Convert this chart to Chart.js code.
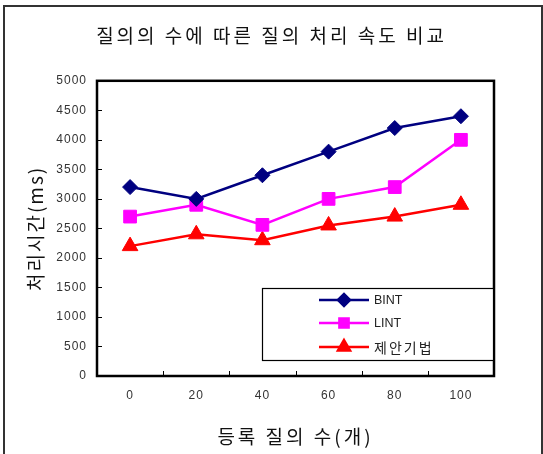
<!DOCTYPE html>
<html>
<head>
<meta charset="utf-8">
<script src="https://cdn.jsdelivr.net/npm/chart.js@4/dist/chart.umd.min.js"></script>
<style>
  html, body { margin: 0; padding: 0; background: #fff; }
  #wrap { position: relative; width: 543px; height: 454px; overflow: hidden; }
  #c { position: absolute; left: 0; top: 0; }
  .bl { position: absolute; left: 3px; top: 5px; width: 2px; height: 460px; background: #333; }
  .bt { position: absolute; left: 3px; top: 5px; width: 560px; height: 2px; background: #333; }
  .br { position: absolute; left: 541px; top: 5px; width: 2px; height: 460px; background: #333; }
</style>
</head>
<body>
<div id="wrap">
  <canvas id="c" width="543" height="454"></canvas>
  <div class="bl"></div><div class="bt"></div><div class="br"></div>
</div>
<script>
// ---- data ----
const categories = ['0', '20', '40', '60', '80', '100'];
const bintValues = [3200, 3000, 3400, 3800, 4200, 4400];
const lintValues = [2700, 2900, 2560, 3000, 3200, 4000];
const proposedValues = [2200, 2400, 2300, 2550, 2700, 2900];
const seriesNames = ['BINT', 'LINT', '제안기법'];
const yMin = 0, yMax = 5000, yStep = 500;
const chartTitle = '질의의 수에 따른 질의 처리 속도 비교';
const xTitle = '등록 질의 수(개)';
const yTitle = '처리시간(ms)';

const LATIN = "'Liberation Sans', 'Noto Sans CJK KR', sans-serif";
const KOR = "'Noto Sans CJK KR', 'Liberation Sans', sans-serif";

function withSpacing(ctx, sp, fn) {
  ctx.save();
  ctx.letterSpacing = sp;
  fn();
  ctx.restore();
}

const spacingPlugin = {
  id: 'spacing',
  afterLayout(chart) {
    const tb = chart.titleBlock;
    if (tb && !tb._sp) {
      const orig = tb.draw.bind(tb);
      tb.draw = () => withSpacing(chart.ctx, '3px', orig);
      tb._sp = true;
    }
    [['x', '3px'], ['y', '2px']].forEach(([id, sp]) => {
      const s = chart.scales[id];
      if (s && !s._sp) {
        const origT = s.drawTitle.bind(s);
        s.drawTitle = () => withSpacing(chart.ctx, sp, origT);
        const origL = s.drawLabels.bind(s);
        s.drawLabels = (area) => withSpacing(chart.ctx, '1px', () => origL(area));
        s._sp = true;
      }
    });
  }
};

const framePlugin = {
  id: 'frame',
  afterDraw(chart) {
    const ctx = chart.ctx;
    const a = chart.chartArea;
    const xs = chart.scales.x, ys = chart.scales.y;
    ctx.save();
    // tick marks (inside)
    ctx.strokeStyle = '#000';
    ctx.lineWidth = 1;
    ctx.beginPath();
    for (let v = yMin; v <= yMax; v += yStep) {
      const y = Math.round(ys.getPixelForValue(v)) + 0.5;
      ctx.moveTo(a.left, y); ctx.lineTo(a.left + 5, y);
    }
    for (let i = 0; i < categories.length - 1; i++) {
      const x = Math.round((xs.getPixelForValue(i) + xs.getPixelForValue(i + 1)) / 2) + 0.5;
      ctx.moveTo(x, a.bottom); ctx.lineTo(x, a.bottom - 5);
    }
    ctx.stroke();
    // plot frame
    ctx.lineWidth = 2.5;
    ctx.strokeRect(a.left, a.top, a.right - a.left, a.bottom - a.top);

    // legend
    const bx = 262, by = 288, bw = 231, bh = 72;
    ctx.fillStyle = '#fff';
    ctx.fillRect(bx, by, bw, bh);
    ctx.lineWidth = 1.2;
    ctx.strokeStyle = '#000';
    ctx.strokeRect(bx + 0.5, by + 0.5, bw, bh);
    const rows = [300, 323, 347];
    const legendRadius = [6, 6.5, 7];
    chart.data.datasets.forEach((ds, i) => {
      const y = rows[i];
      ctx.strokeStyle = ds.borderColor;
      ctx.fillStyle = ds.backgroundColor;
      ctx.lineWidth = 2.5;
      ctx.beginPath();
      ctx.moveTo(319, y); ctx.lineTo(369, y);
      ctx.stroke();
      Chart.helpers.drawPoint(ctx, {
        pointStyle: ds.pointStyle, radius: legendRadius[i], rotation: 0, borderWidth: 1
      }, 344, y);
      ctx.fillStyle = '#222';
      ctx.textBaseline = 'middle';
      ctx.textAlign = 'left';
      if (/[\uAC00-\uD7A3]/.test(ds.label)) {
        ctx.font = '14px ' + KOR;
        ctx.letterSpacing = '2px';
      } else {
        ctx.font = '12.5px ' + LATIN;
        ctx.letterSpacing = '0px';
      }
      ctx.fillText(ds.label, 374, y + 1);
      ctx.letterSpacing = '0px';
    });
    ctx.restore();
  }
};

new Chart(document.getElementById('c'), {
  type: 'line',
  data: {
    labels: categories,
    datasets: [
      { label: seriesNames[0], data: bintValues, borderColor: '#000080', backgroundColor: '#000080',
        pointStyle: 'rectRot', pointRadius: 7.5, pointHoverRadius: 7.5, borderWidth: 2.5, pointBorderWidth: 1 },
      { label: seriesNames[1], data: lintValues, borderColor: '#FF00FF', backgroundColor: '#FF00FF',
        pointStyle: 'rect', pointRadius: 9, pointHoverRadius: 9, borderWidth: 2.5, pointBorderWidth: 1 },
      { label: seriesNames[2], data: proposedValues, borderColor: '#FF0000', backgroundColor: '#FF0000',
        pointStyle: 'triangle', pointRadius: 9, pointHoverRadius: 9, borderWidth: 2.5, pointBorderWidth: 1 }
    ]
  },
  options: {
    responsive: false,
    animation: false,
    devicePixelRatio: 1,
    layout: { padding: { left: 0, right: 0, top: 0, bottom: 0 } },
    plugins: {
      legend: { display: false },
      tooltip: { enabled: false },
      title: {
        display: true,
        text: chartTitle,
        color: '#111',
        font: { family: KOR, size: 19, weight: 'normal', lineHeight: 1.2 },
        padding: { top: 24, bottom: 34 }
      }
    },
    scales: {
      x: {
        type: 'category',
        offset: true,
        grid: { display: false, drawTicks: false },
        border: { display: false },
        ticks: { color: '#333', font: { family: LATIN, size: 12 }, padding: 12, maxRotation: 0 },
        title: { display: true, text: xTitle, color: '#111',
          font: { family: KOR, size: 19, weight: 'normal', lineHeight: 1.2 },
          padding: { top: 0, bottom: 6 } },
        afterFit(s) { s.height = 78; }
      },
      y: {
        min: yMin, max: yMax,
        grid: { display: false, drawTicks: false },
        border: { display: false },
        ticks: { stepSize: yStep, color: '#333', font: { family: LATIN, size: 12 }, padding: 10,
          callback: (v) => String(v) },
        title: { display: true, text: yTitle, color: '#111',
          font: { family: KOR, size: 19, weight: 'normal', lineHeight: 1.2 },
          padding: { top: 24, bottom: 0 } },
        afterFit(s) { s.width = 97; }
      },
      yRight: {
        position: 'right',
        display: true,
        min: yMin, max: yMax,
        grid: { display: false, drawTicks: false },
        border: { display: false },
        ticks: { display: false },
        afterFit(s) { s.width = 49; }
      }
    }
  },
  plugins: [spacingPlugin, framePlugin]
});
</script>
</body>
</html>
